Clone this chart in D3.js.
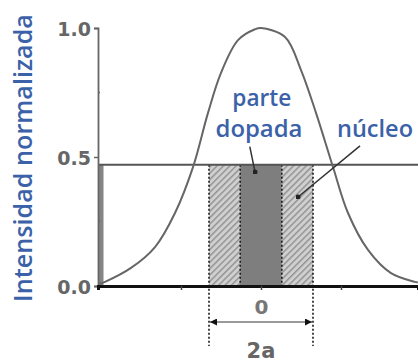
<!DOCTYPE html>
<html>
<head>
<meta charset="utf-8">
<script src="https://cdn.jsdelivr.net/npm/d3@7"></script>
<style>
  html, body { margin: 0; padding: 0; background: #fff; }
  svg { display: block; }
</style>
</head>
<body>
<svg id="chart" width="418" height="364"></svg>
<script>
// Normalised intensity of the guided beam across the fibre (x in arbitrary units)
const beamX = [-2.02, -1.95, -1.625, -1.325, -1.075, -0.85, -0.6625, -0.5, -0.2875, -0.075, 0.0,
               0.3, 0.5, 0.6875, 0.9, 1.0875, 1.3375, 1.625, 1.925, 1.96];
const beamY = [0.008, 0.016, 0.07, 0.151, 0.283, 0.461, 0.671, 0.826, 0.953, 0.995, 1.0,
               0.965, 0.837, 0.671, 0.461, 0.283, 0.14, 0.05, 0.016, 0.014];

// Step-index profile and core geometry
const stepLevel = 0.47;
const stepStart = -2.0;
const stepEnd = 2.0;
const coreHalfWidth = 0.65;     // a
const dopedHalfWidth = 0.26;

// Axes
const yTicks = [0.0, 0.5, 1.0];
const yTickLabels = ["0.0", "0.5", "1.0"];
const yMinorTicks = [0.25, 0.75];
const xTicks = [-1, 0, 1];
const xTickLabels = ["", "0", ""];

// Annotations (data units)
const labelTexts = ["parte", "dopada", "núcleo"];
const labelX = [0.01, -0.025, 1.425];
const labelY = [0.696, 0.578, 0.578];
const labelWidths = [59, 87, 76];
const leaderFrom = [[-0.14, 0.54], [1.2375, 0.543]];
const leaderTo = [[-0.075, 0.442], [0.4625, 0.345]];

const yTitle = "Intensidad normalizada";
const widthLabel = "2a";

const svg = d3.select("#chart");
const x = d3.scaleLinear().domain([-2.0375, 1.9625]).range([98, 418]);
const y = d3.scaleLinear().domain([0, 1]).range([286, 28]);

const blue = "#3b62a8";

// Hatch pattern for the undoped part of the core
const defs = svg.append("defs");
const pat = defs.append("pattern")
  .attr("id", "hatch")
  .attr("patternUnits", "userSpaceOnUse")
  .attr("width", 4.5).attr("height", 4.5)
  .attr("patternTransform", "rotate(45)");
pat.append("rect").attr("width", 4.5).attr("height", 4.5).attr("fill", "#d0d0d0");
pat.append("line").attr("x1", 0.8).attr("x2", 0.8).attr("y1", 0).attr("y2", 4.5)
  .attr("stroke", "#858585").attr("stroke-width", 1.2);

defs.append("marker")
  .attr("id", "arrow")
  .attr("viewBox", "0 0 10 10")
  .attr("refX", 10).attr("refY", 5)
  .attr("markerWidth", 9).attr("markerHeight", 7)
  .attr("markerUnits", "userSpaceOnUse")
  .attr("orient", "auto-start-reverse")
  .append("path").attr("d", "M0,0 L10,5 L0,10 Z").attr("fill", "#111");

defs.append("marker")
  .attr("id", "dot")
  .attr("viewBox", "0 0 10 10")
  .attr("refX", 5).attr("refY", 5)
  .attr("markerWidth", 5).attr("markerHeight", 5)
  .attr("markerUnits", "userSpaceOnUse")
  .append("circle").attr("cx", 5).attr("cy", 5).attr("r", 5).attr("fill", "#222");

// Core: hatched outer ring, dark doped centre
const regions = [
  { x0: -coreHalfWidth, x1: -dopedHalfWidth, fill: "url(#hatch)" },
  { x0: -dopedHalfWidth, x1: dopedHalfWidth, fill: "#7e7e7e" },
  { x0: dopedHalfWidth, x1: coreHalfWidth, fill: "url(#hatch)" }
];
svg.append("g").selectAll("rect").data(regions).join("rect")
  .attr("x", d => x(d.x0)).attr("width", d => x(d.x1) - x(d.x0))
  .attr("y", y(stepLevel)).attr("height", y(0) - y(stepLevel))
  .attr("fill", d => d.fill);

// Dotted boundaries of the core and doped region
const bounds = [
  { v: -coreHalfWidth, ext: 60 },
  { v: -dopedHalfWidth, ext: 0 },
  { v: dopedHalfWidth, ext: 0 },
  { v: coreHalfWidth, ext: 60 }
];
svg.append("g").selectAll("line").data(bounds).join("line")
  .attr("x1", d => x(d.v)).attr("x2", d => x(d.v))
  .attr("y1", y(stepLevel)).attr("y2", d => y(0) + d.ext)
  .attr("stroke", "#1a1a1a").attr("stroke-width", 1.6)
  .attr("stroke-dasharray", "2,2");

// Step-index profile
svg.append("line")
  .attr("x1", x(stepStart)).attr("x2", x(stepStart))
  .attr("y1", y(stepLevel)).attr("y2", y(0))
  .attr("stroke", "#858585").attr("stroke-width", 5);
svg.append("line")
  .attr("x1", x(stepStart) - 2).attr("x2", x(stepEnd))
  .attr("y1", y(stepLevel)).attr("y2", y(stepLevel))
  .attr("stroke", "#555").attr("stroke-width", 2);

// Beam intensity curve
const line = d3.line().x(d => x(d[0])).y(d => y(d[1])).curve(d3.curveCatmullRom.alpha(0.5));
svg.append("path")
  .datum(d3.zip(beamX, beamY))
  .attr("d", line)
  .attr("fill", "none").attr("stroke", "#666").attr("stroke-width", 2);

// Y axis
const yAxis = d3.axisLeft(y).tickValues(yTicks).tickSize(4)
  .tickFormat((d, i) => yTickLabels[i]);
const gy = svg.append("g").attr("transform", `translate(${x.range()[0]},0)`).call(yAxis);
gy.select(".domain").attr("stroke", "#666").attr("stroke-width", 1.8);
gy.selectAll(".tick line").attr("stroke", "#666").attr("stroke-width", 1.5);
gy.selectAll(".tick text")
  .attr("x", -7).attr("dy", "0.4em")
  .attr("font-family", "DejaVu Sans").attr("font-weight", "bold")
  .attr("font-size", 19).attr("fill", "#666");
svg.append("g").selectAll("line").data(yMinorTicks).join("line")
  .attr("x1", x.range()[0]).attr("x2", x.range()[0] + 2)
  .attr("y1", d => y(d)).attr("y2", d => y(d))
  .attr("stroke", "#666").attr("stroke-width", 1.5);

// X axis
const xAxis = d3.axisBottom(x).tickValues(xTicks).tickSize(4)
  .tickFormat((d, i) => xTickLabels[i]);
const gx = svg.append("g").attr("transform", `translate(0,${y(0)})`).call(xAxis);
gx.select(".domain").attr("stroke", "#111").attr("stroke-width", 3);
gx.selectAll(".tick line").attr("stroke", "#444").attr("stroke-width", 1.5);
gx.selectAll(".tick text")
  .attr("y", 14)
  .attr("font-family", "DejaVu Sans").attr("font-weight", "bold")
  .attr("font-size", 20).attr("fill", "#777");

// Core width arrow
svg.append("line")
  .attr("x1", x(-coreHalfWidth) + 1).attr("x2", x(coreHalfWidth) - 1)
  .attr("y1", y(0) + 36).attr("y2", y(0) + 36)
  .attr("stroke", "#9a9a9a").attr("stroke-width", 2)
  .attr("marker-start", "url(#arrow)").attr("marker-end", "url(#arrow)");
svg.append("text")
  .attr("x", x(0)).attr("y", y(0) + 72)
  .attr("text-anchor", "middle")
  .attr("font-family", "DejaVu Sans").attr("font-weight", "bold")
  .attr("font-size", 21).attr("fill", "#666")
  .text(widthLabel);

// Leader lines
svg.append("g").selectAll("line").data(d3.zip(leaderFrom, leaderTo)).join("line")
  .attr("x1", d => x(d[0][0])).attr("y1", d => y(d[0][1]))
  .attr("x2", d => x(d[1][0])).attr("y2", d => y(d[1][1]))
  .attr("stroke", "#333").attr("stroke-width", 1.5)
  .attr("marker-end", "url(#dot)");

// Region labels
function fitWidth(sel, target) {
  const len = sel.node().getComputedTextLength();
  sel.attr("font-size", parseFloat(sel.attr("font-size")) * target / len);
}
labelTexts.forEach((t, i) => {
  const s = svg.append("text")
    .attr("x", x(labelX[i])).attr("y", y(labelY[i]))
    .attr("text-anchor", "middle")
    .attr("font-family", "Open Sans").attr("font-weight", 600)
    .attr("font-size", 20).attr("fill", blue)
    .text(t);
  fitWidth(s, labelWidths[i]);
});

// Y axis title
const title = svg.append("text")
  .attr("transform", "translate(32,158) rotate(-90)")
  .attr("text-anchor", "middle")
  .attr("font-family", "Open Sans").attr("font-weight", 600)
  .attr("font-size", 20).attr("fill", blue)
  .text(yTitle);
fitWidth(title, 288);
</script>
</body>
</html>
